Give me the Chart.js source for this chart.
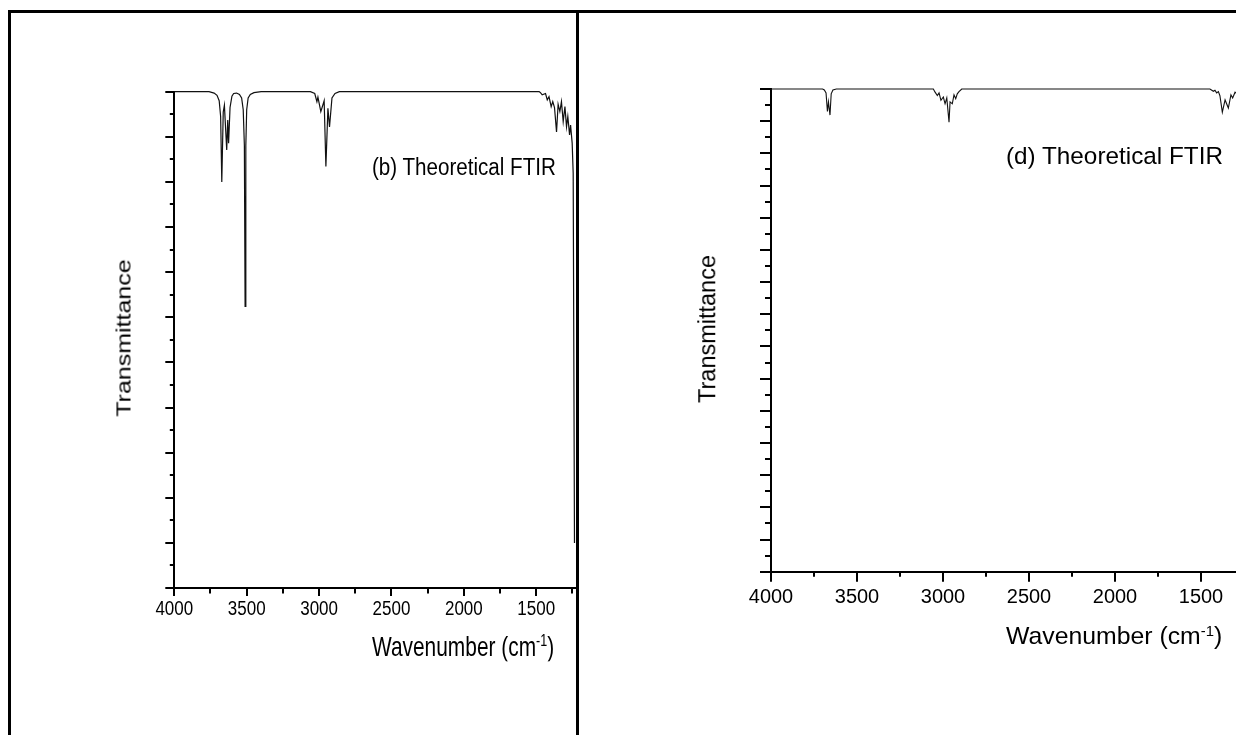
<!DOCTYPE html>
<html>
<head>
<meta charset="utf-8">
<script src="https://cdn.jsdelivr.net/npm/chart.js@4.4.1/dist/chart.umd.min.js"></script>
<style>
  body { margin:0; background:#fff; width:1236px; height:735px; overflow:hidden; position:relative; font-family:"Liberation Sans", Arial, sans-serif; color:#000; }
  .panel { position:absolute; top:0; height:735px; overflow:hidden; }
  .rule { position:absolute; background:#000; z-index:5; }
  .lbl { position:absolute; white-space:nowrap; line-height:1; transform-origin:0 0; }
  .lbl sup { font-size:0.6em; position:relative; top:-0.55em; vertical-align:baseline; }
  .ylbl { position:absolute; white-space:nowrap; line-height:1; }
</style>
</head>
<body>

<div class="panel" style="left:0;width:577px"><canvas id="chartB" width="600" height="735"></canvas></div>
<div class="panel" style="left:577px;width:659px"><canvas id="chartD" width="740" height="735"></canvas></div>

<!-- frame -->
<div class="rule" style="left:8px;top:10px;width:1240px;height:3px"></div>
<div class="rule" style="left:8px;top:10px;width:3px;height:730px"></div>
<div class="rule" style="left:576px;top:10px;width:3px;height:730px"></div>

<!-- panel (b) text -->
<div class="lbl" style="left:372px;top:155px;font-size:20.6px;transform:scaleY(1.2)">(b) Theoretical FTIR</div>
<div class="lbl" style="left:372px;top:633px;font-size:20.9px;transform:scaleY(1.34)">Wavenumber (cm<sup>-1</sup>)</div>
<div class="ylbl" style="left:123px;top:338px;font-size:21px;transform:translate(-50%,-50%) rotate(-90deg) scaleX(1.19)">Transmittance</div>

<!-- panel (d) text -->
<div class="lbl" style="left:1006px;top:145px;font-size:24.3px;transform:scaleY(0.95)">(d) Theoretical FTIR</div>
<div class="lbl" style="left:1006px;top:624px;font-size:24.8px">Wavenumber (cm<sup>-1</sup>)</div>
<div class="ylbl" style="left:708px;top:329px;font-size:23.5px;transform:translate(-50%,-50%) rotate(-90deg)">Transmittance</div>

<script>
// spectrum (b): wavenumber (cm-1) and transmittance (%)
const bWave = [4000, 3760, 3725, 3705, 3690, 3680, 3672, 3662, 3654, 3638, 3631, 3625, 3615, 3602, 3590,
  3570, 3550, 3535, 3524, 3516, 3511, 3506, 3500, 3490, 3475, 3450, 3400,
  3060, 3030, 3015, 3008, 2988, 2965, 2953, 2939, 2928, 2911, 2890, 2860,
  1480, 1471, 1459, 1436, 1424, 1412, 1397, 1386, 1374, 1360, 1349, 1337, 1326, 1314,
  1302, 1291, 1282, 1270, 1263, 1252, 1245, 1236];
const bTrans = [100, 100, 99.7, 99.2, 98.0, 94.5, 80.0, 95.5, 97.0, 87.1, 93.7, 88.6, 96.5, 99.0, 99.6,
  99.7, 99.4, 98.6, 96.0, 88.0, 52.4, 88.0, 96.0, 98.6, 99.4, 99.8, 100,
  100, 99.6, 97.8, 98.8, 95.6, 98.0, 83.4, 96.3, 92.2, 98.6, 99.6, 100,
  100, 99.8, 99.3, 99.6, 98.2, 98.9, 96.7, 97.8, 96.5, 91.1, 97.2, 95.6, 97.8, 93.4,
  96.7, 92.2, 94.5, 90.4, 92.6, 88.6, 82.0, 0];

// spectrum (d)
const dWave = [4000, 3700, 3690, 3680, 3672, 3666, 3657, 3650, 3640, 3620,
  3070, 3056, 3047, 3033, 3023, 3012, 2998, 2988, 2978, 2965, 2959, 2946, 2936, 2926, 2917, 2907, 2891,
  1460, 1448, 1428, 1419, 1409, 1399, 1390, 1376, 1360, 1341, 1326, 1316, 1302, 1290];
const dTrans = [100, 100, 99.7, 98.8, 93.0, 96.0, 91.9, 98.5, 99.7, 100,
  100, 100, 99.1, 98.0, 98.8, 96.5, 97.5, 95.4, 97.2, 89.7, 96.0, 95.4, 98.2, 97.0, 98.5, 99.2, 100,
  100, 100, 99.3, 99.6, 98.8, 99.2, 97.9, 92.8, 96.6, 94.1, 98.2, 97.2, 99.0, 98.5];

// axis ticks
const xTicks = [4000, 3750, 3500, 3250, 3000, 2750, 2500, 2250, 2000, 1750, 1500, 1250];
const xTickLabels = ['4000', '', '3500', '', '3000', '', '2500', '', '2000', '', '1500', ''];
const bYTicks = [-10, -5, 0, 5, 10, 15, 20, 25, 30, 35, 40, 45, 50, 55, 60, 65, 70, 75, 80, 85, 90, 95, 100];
const dYTicks = [-50, -45, -40, -35, -30, -25, -20, -15, -10, -5, 0, 5, 10, 15, 20, 25, 30, 35, 40, 45, 50,
  55, 60, 65, 70, 75, 80, 85, 90, 95, 100];

// tick marks (outward, long on majors) and x tick labels
const axisTicks = {
  id: 'axisTicks',
  afterDraw(chart, args, o) {
    const { ctx, scales: { x, y }, chartArea } = chart;
    ctx.save();
    ctx.strokeStyle = '#000';
    ctx.lineWidth = 2;
    xTicks.forEach(v => {
      const px = Math.round(x.getPixelForValue(v));
      const len = v % 500 === 0 ? o.xMajor : o.xMinor;
      ctx.beginPath();
      ctx.moveTo(px, chartArea.bottom);
      ctx.lineTo(px, chartArea.bottom + len);
      ctx.stroke();
    });
    o.yTicks.forEach(v => {
      const py = Math.round(y.getPixelForValue(v));
      const len = v % 10 === 0 ? o.yMajor : o.yMinor;
      ctx.beginPath();
      ctx.moveTo(chartArea.left, py);
      ctx.lineTo(chartArea.left - len, py);
      ctx.stroke();
    });
    ctx.fillStyle = '#000';
    ctx.textAlign = 'center';
    ctx.textBaseline = 'alphabetic';
    ctx.font = o.fontSize + 'px "Liberation Sans", Arial, sans-serif';
    xTicks.forEach((v, i) => {
      if (!xTickLabels[i]) return;
      ctx.save();
      ctx.translate(x.getPixelForValue(v), o.labelBase);
      ctx.scale(1, o.labelStretch);
      ctx.fillText(xTickLabels[i], 0, 0);
      ctx.restore();
    });
    ctx.restore();
  }
};

function makeChart(id, wave, trans, cfg) {
  const pts = wave.map((w, i) => ({ x: w, y: trans[i] }));
  return new Chart(document.getElementById(id), {
    type: 'line',
    data: {
      datasets: [{
        data: pts,
        borderColor: '#111',
        borderWidth: cfg.lineWidth,
        pointRadius: 0,
        tension: 0,
        clip: false
      }]
    },
    options: {
      responsive: false,
      animation: false,
      devicePixelRatio: 1,
      layout: { padding: cfg.padding },
      plugins: {
        legend: { display: false },
        tooltip: { enabled: false },
        axisTicks: cfg.ticks
      },
      scales: {
        x: {
          type: 'linear', reverse: true, min: cfg.xMin, max: 4000,
          grid: { display: false, drawTicks: false },
          border: { display: true, color: '#000', width: 2 },
          ticks: { display: false }
        },
        y: {
          type: 'linear', min: cfg.yMin, max: 100,
          grid: { display: false, drawTicks: false },
          border: { display: true, color: '#000', width: 2 },
          ticks: { display: false }
        }
      }
    },
    plugins: [axisTicks]
  });
}

makeChart('chartB', bWave, bTrans, {
  xMin: 1200, yMin: -10, lineWidth: 1.2,
  padding: { left: 174.3, top: 91.7, right: 20.3, bottom: 147 },
  ticks: { yTicks: bYTicks, xMajor: 8, xMinor: 5.5, yMajor: 9, yMinor: 4.5, fontSize: 17, labelBase: 615, labelStretch: 1.23 }
});

makeChart('chartD', dWave, dTrans, {
  xMin: 1000, yMin: -50, lineWidth: 1.1,
  padding: { left: 194, top: 89, right: 30, bottom: 163.3 },
  ticks: { yTicks: dYTicks, xMajor: 10, xMinor: 5, yMajor: 11, yMinor: 6, fontSize: 20, labelBase: 603.3, labelStretch: 1.05 }
});
</script>
</body>
</html>
